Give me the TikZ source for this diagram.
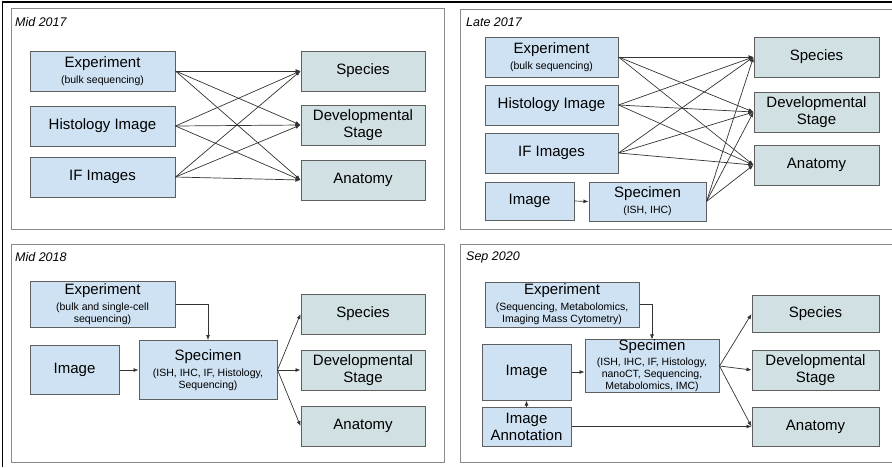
\documentclass[tikz,border=0pt]{standalone}
\usepackage{xcolor}
\usepackage{fontspec}
\setmainfont{Liberation Sans}
\usetikzlibrary{arrows.meta}

\definecolor{srcfill}{HTML}{CFE2F3}
\definecolor{tgtfill}{HTML}{D0E0E3}
\definecolor{boxline}{HTML}{5F5F5F}
\definecolor{panelline}{HTML}{8A8A8A}

\newcommand{\bigtxt}{\fontsize{15}{17}\selectfont}
\newcommand{\smalltxt}{\fontsize{10.5}{11.5}\selectfont}

\tikzset{
	srcbox/.style={shape=rectangle, draw=boxline, fill=srcfill,
		line width=1pt, align=center, inner sep=0pt, font=\bigtxt},
	tgtbox/.style={shape=rectangle, draw=boxline, fill=tgtfill,
		line width=1pt, align=center, inner sep=0pt, font=\bigtxt},
	panel/.style={draw=panelline, line width=1pt},
	stamp/.style={anchor=west, inner sep=0pt,
		font=\fontsize{12.5}{14}\selectfont\itshape},
	arr/.style={draw=black!80, line width=0.7pt,
		-{Latex[length=5pt,width=4pt]}}
}

\begin{document}
\begin{tikzpicture}[x=1pt, y=-1pt]
	\useasboundingbox (0, 0) rectangle (892, 467);
	\clip (0, 0) rectangle (892, 467);

	% frame and panels
	\draw[line width=1.6pt] (2.5, 467) -- (2.5, 1.8) -- (892, 1.8);
	\draw[panel] (11, 8)   rectangle (444, 229);
	\draw[panel] (460, 9)  rectangle (900, 229);
	\draw[panel] (11, 244) rectangle (444, 462);
	\draw[panel] (460, 244) rectangle (900, 462);

	\node[stamp] (tA) at (15, 22)   {Mid 2017};
	\node[stamp] (tB) at (466, 22)  {Late 2017};
	\node[stamp] (tC) at (15, 257)  {Mid 2018};
	\node[stamp] (tD) at (466, 257) {Sep 2020};

	% Mid 2017
	\node[srcbox, minimum width=145, minimum height=40]
		(exA) at (102.5, 71) {Experiment\\[-1pt]\smalltxt (bulk sequencing)};
	\node[srcbox, minimum width=145, minimum height=40]
		(hiA) at (102.5, 126) {Histology Image};
	\node[srcbox, minimum width=145, minimum height=40]
		(ifA) at (102.5, 177) {IF Images};
	\node[tgtbox, minimum width=124, minimum height=40]
		(spA) at (363, 71) {Species};
	\node[tgtbox, minimum width=124, minimum height=40]
		(dsA) at (363, 125) {Developmental\\Stage};
	\node[tgtbox, minimum width=124, minimum height=40]
		(anA) at (363, 180) {Anatomy};

	\draw[arr] (exA.east) -- (spA.west);
	\draw[arr] (exA.east) -- (dsA.west);
	\draw[arr] (exA.east) -- (anA.west);
	\draw[arr] (hiA.east) -- (spA.west);
	\draw[arr] (hiA.east) -- (dsA.west);
	\draw[arr] (hiA.east) -- (anA.west);
	\draw[arr] (ifA.east) -- (spA.west);
	\draw[arr] (ifA.east) -- (dsA.west);
	\draw[arr] (ifA.east) -- (anA.west);

	% Late 2017
	\node[srcbox, minimum width=133, minimum height=40]
		(exB) at (551.5, 57) {Experiment\\[-1pt]\smalltxt (bulk sequencing)};
	\node[srcbox, minimum width=133, minimum height=40]
		(hiB) at (551.5, 105) {Histology Image};
	\node[srcbox, minimum width=133, minimum height=40]
		(ifB) at (551.5, 153) {IF Images};
	\node[srcbox, minimum width=89, minimum height=38]
		(imB) at (529.5, 201) {Image};
	\node[srcbox, minimum width=117, minimum height=39]
		(smB) at (647.5, 201.5) {Specimen\\[-1pt]\smalltxt (ISH, IHC)};
	\node[tgtbox, minimum width=125, minimum height=40]
		(spB) at (816.5, 57) {Species};
	\node[tgtbox, minimum width=125, minimum height=40]
		(dsB) at (816.5, 112) {Developmental\\Stage};
	\node[tgtbox, minimum width=125, minimum height=40]
		(anB) at (816.5, 165) {Anatomy};

	\draw[arr] (exB.east) -- (spB.west);
	\draw[arr] (exB.east) -- (dsB.west);
	\draw[arr] (exB.east) -- (anB.west);
	\draw[arr] (hiB.east) -- (spB.west);
	\draw[arr] (hiB.east) -- (dsB.west);
	\draw[arr] (hiB.east) -- (anB.west);
	\draw[arr] (ifB.east) -- (spB.west);
	\draw[arr] (ifB.east) -- (dsB.west);
	\draw[arr] (ifB.east) -- (anB.west);
	\draw[arr] (smB.east) -- (spB.west);
	\draw[arr] (smB.east) -- (dsB.west);
	\draw[arr] (smB.east) -- (anB.west);
	\draw[arr] (imB.east) -- (smB.west);

	% Mid 2018
	\node[srcbox, minimum width=145, minimum height=46]
		(exC) at (102.5, 304) {Experiment\\[-1pt]\smalltxt (bulk and single-cell\\[-5pt]\smalltxt sequencing)};
	\node[srcbox, minimum width=89, minimum height=49]
		(imC) at (74.5, 370) {Image};
	\node[srcbox, minimum width=138, minimum height=59]
		(smC) at (208, 370) {Specimen\\[-1pt]\smalltxt (ISH, IHC, IF, Histology,\\[-5pt]\smalltxt Sequencing)};
	\node[tgtbox, minimum width=124, minimum height=40]
		(spC) at (363, 314) {Species};
	\node[tgtbox, minimum width=124, minimum height=40]
		(dsC) at (363, 370) {Developmental\\Stage};
	\node[tgtbox, minimum width=124, minimum height=40]
		(anC) at (363, 426) {Anatomy};

	\draw[arr] (exC.east) -| (smC.north);
	\draw[arr] (imC.east) -- (smC.west);
	\draw[arr] (smC.east) -- (spC.west);
	\draw[arr] (smC.east) -- (dsC.west);
	\draw[arr] (smC.east) -- (anC.west);

	% Sep 2020
	\node[srcbox, minimum width=154, minimum height=45]
		(exD) at (562, 304.5) {Experiment\\[-1pt]\smalltxt (Sequencing, Metabolomics,\\[-5pt]\smalltxt Imaging Mass Cytometry)};
	\node[srcbox, minimum width=89, minimum height=56]
		(imD) at (526.5, 372) {Image};
	\node[srcbox, minimum width=89, minimum height=39]
		(anotD) at (526.5, 426.5) {Image\\Annotation};
	\node[srcbox, minimum width=134, minimum height=52]
		(smD) at (652, 366) {Specimen\\[-2pt]\smalltxt (ISH, IHC, IF, Histology,\\[-5pt]\smalltxt nanoCT, Sequencing,\\[-5pt]\smalltxt Metabolomics, IMC)};
	\node[tgtbox, minimum width=127, minimum height=37]
		(spD) at (815.5, 314) {Species};
	\node[tgtbox, minimum width=127, minimum height=40]
		(dsD) at (815.5, 370) {Developmental\\Stage};
	\node[tgtbox, minimum width=127, minimum height=39]
		(anD) at (815.5, 426.5) {Anatomy};

	\draw[arr] (exD.east) -| (smD.north);
	\draw[arr] (imD.east) -- (imD.east -| smD.west);
	\draw[arr] (anotD.north) -- (imD.south);
	\draw[arr] (anotD.east) -- (anD.west);
	\draw[arr] (smD.east) -- (spD.west);
	\draw[arr] (smD.east) -- (dsD.west);
	\draw[arr] (smD.east) -- (anD.west);
\end{tikzpicture}
\end{document}
